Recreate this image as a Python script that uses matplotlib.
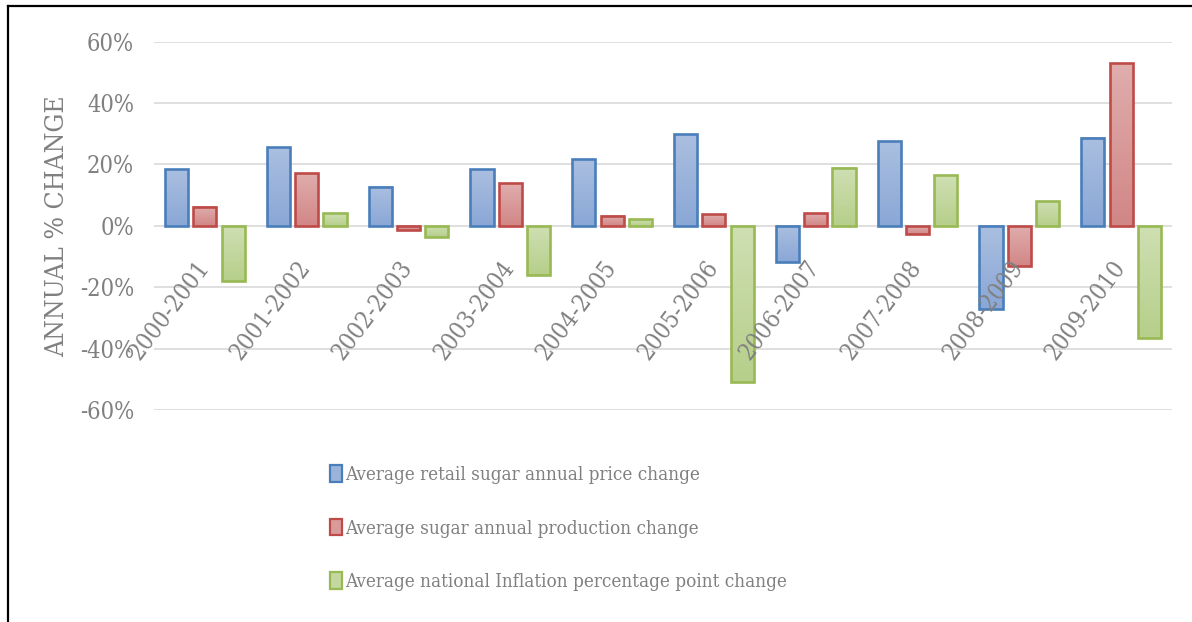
import matplotlib
matplotlib.use("Agg")
import numpy as np
import matplotlib.pyplot as plt
from matplotlib.patches import Patch
from matplotlib.lines import Line2D
from matplotlib.ticker import FuncFormatter
from matplotlib.transforms import offset_copy

plt.rcParams['font.family'] = ['DejaVu Serif']
plt.rcParams['font.stretch'] = 'condensed'

# ---------------- data ----------------
periods = ["2000-2001", "2001-2002", "2002-2003", "2003-2004", "2004-2005",
           "2005-2006", "2006-2007", "2007-2008", "2008-2009", "2009-2010"]
price_change = [0.184, 0.257, 0.128, 0.184, 0.217, 0.298, -0.119, 0.276, -0.271, 0.287]
production_change = [0.062, 0.171, -0.014, 0.139, 0.033, 0.037, 0.041, -0.025, -0.130, 0.531]
inflation_change = [-0.181, 0.041, -0.036, -0.160, 0.022, -0.509, 0.190, 0.165, 0.081, -0.365]
series_labels = ["Average retail sugar annual price change",
                 "Average sugar annual production change",
                 "Average national Inflation percentage point change"]
yticks = [-0.6, -0.4, -0.2, 0.0, 0.2, 0.4, 0.6]

# ---------------- style ----------------
edge_colors = ["#4a7ebb", "#be4b48", "#98b954"]
top_colors = ["#aabfe0", "#e0adad", "#cfdfb3"]
bottom_colors = ["#8aa7d6", "#d28686", "#b6cf8a"]
text_gray = "#808080"
grid_gray = "#d9d9d9"

W, H = 1192, 622
fig = plt.figure(figsize=(W / 100, H / 100), dpi=100)
ax = fig.add_axes([154 / W, 1 - 410 / H, (1172 - 154) / W, (410 - 41.7) / H])

x = np.arange(len(periods))
width = 0.226
step = 0.278
all_series = [price_change, production_change, inflation_change]


def hex2rgb(h):
    h = h.lstrip('#')
    return np.array([int(h[i:i + 2], 16) / 255 for i in (0, 2, 4)])


for k, vals in enumerate(all_series):
    offs = (k - 1) * step
    bars = ax.bar(x + offs, vals, width, facecolor='none', edgecolor=edge_colors[k],
                  linewidth=1.9, zorder=4, label=series_labels[k])
    c0, c1 = hex2rgb(bottom_colors[k]), hex2rgb(top_colors[k])
    grad = np.linspace(0, 1, 64)[:, None, None]
    img = (c0 + (c1 - c0) * grad).reshape(64, 1, 3)
    for b in bars:
        x0 = b.get_x()
        x1 = x0 + b.get_width()
        y0 = min(b.get_y(), b.get_y() + b.get_height())
        y1 = max(b.get_y(), b.get_y() + b.get_height())
        ax.imshow(img, extent=[x0, x1, y0, y1], origin='lower', aspect='auto',
                  interpolation='bilinear', zorder=3)

ax.set_xlim(-0.5, len(periods) - 0.5)
ax.set_ylim(-0.6, 0.6)
ax.set_aspect('auto')

ax.set_yticks(yticks)
ax.yaxis.set_major_formatter(FuncFormatter(lambda v, p: f"{v * 100:.0f}%"))
ax.tick_params(axis='y', length=0, pad=14.4, labelsize=17, labelcolor=text_gray)
ax.grid(axis='y', color=grid_gray, linewidth=1.2, zorder=0)
ax.set_axisbelow(True)
for s in ax.spines.values():
    s.set_visible(False)

# category labels next to the zero line, rotated
ax.set_xticks(x)
ax.set_xticklabels([])
ax.tick_params(axis='x', length=0)
lab_tr = offset_copy(ax.transData, fig=fig, x=5, y=-41, units='dots')
for xi, lab in zip(x, periods):
    ax.text(xi, 0, lab, transform=lab_tr, rotation=53, rotation_mode='anchor',
            ha='right', va='baseline', color=text_gray, fontsize=17.3, zorder=5)

ax.set_ylabel("ANNUAL % CHANGE", color=text_gray, fontsize=19)
ax.yaxis.set_label_coords((57 - 154) / (1172 - 154), 0.5)
ax.yaxis.label.set_verticalalignment('center')

handles = [Patch(facecolor=(hex2rgb(top_colors[k]) + hex2rgb(bottom_colors[k])) / 2,
                 edgecolor=edge_colors[k], linewidth=1.6) for k in range(3)]
leg = fig.legend(handles, series_labels, loc='upper left',
                 bbox_to_anchor=(330 / W, 1 - 465 / H), frameon=False,
                 fontsize=13.5, handlelength=0.62, handleheight=1.0, handletextpad=0.2,
                 labelspacing=1.86, borderpad=0, borderaxespad=0)
for t in leg.get_texts():
    t.set_color(text_gray)

# outer frame (top and left edges)
fig.add_artist(Line2D([8 / W, 8 / W], [0, 1 - 6 / H], color='black', linewidth=1.6,
                      transform=fig.transFigure))
fig.add_artist(Line2D([8 / W, 1], [1 - 6 / H, 1 - 6 / H], color='black', linewidth=1.6,
                      transform=fig.transFigure))

fig.savefig("out.png", dpi=100)
